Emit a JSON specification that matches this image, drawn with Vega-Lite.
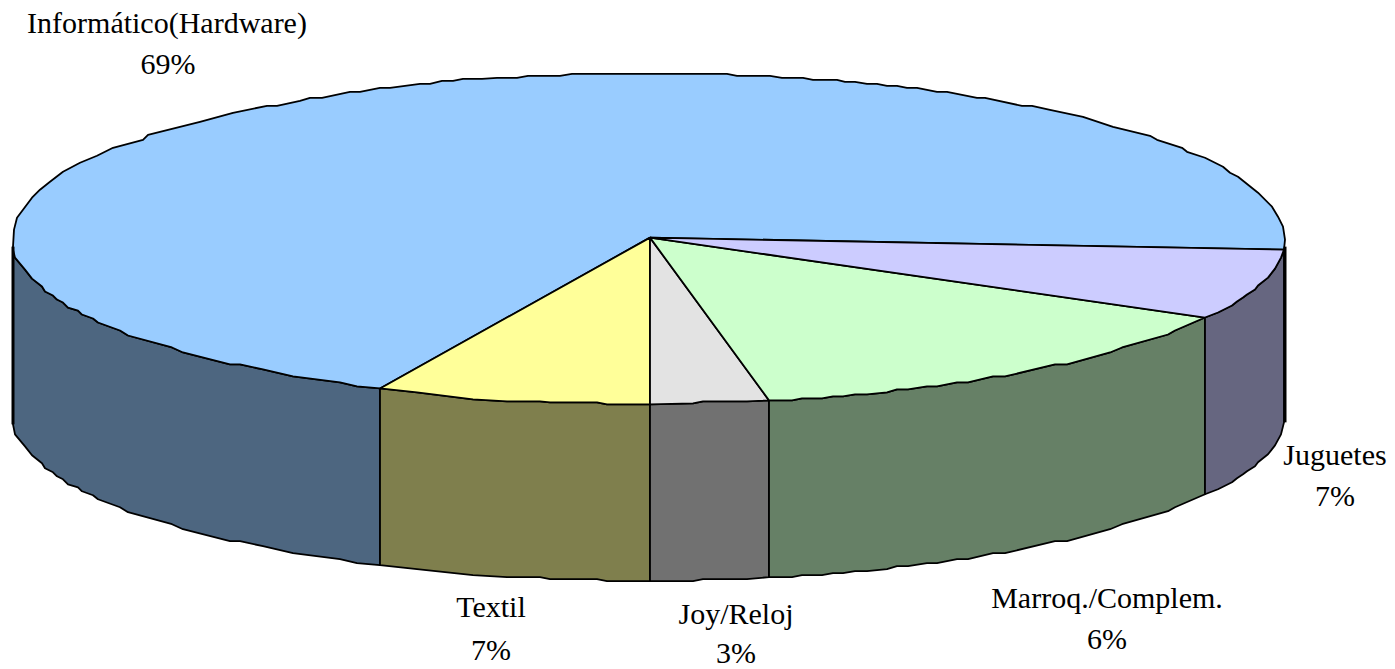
{"$schema":"https://vega.github.io/schema/vega-lite/v6.json","width":1395,"height":669,"autosize":{"type":"fit","contains":"padding"},"padding":0,"background":"white","config":{"view":{"stroke":null}},
"datasets":{"shapes":[
{"p":"s1","i":0,"x":-637,"y":-9},{"p":"s1","i":1,"x":-637,"y":-12},{"p":"s1","i":2,"x":-635,"y":-20},{"p":"s1","i":3,"x":-625,"y":-32},{"p":"s1","i":4,"x":-618,"y":-41},{"p":"s1","i":5,"x":-608,"y":-49},{"p":"s1","i":6,"x":-605,"y":-54},{"p":"s1","i":7,"x":-597,"y":-58},{"p":"s1","i":8,"x":-593,"y":-62},{"p":"s1","i":9,"x":-587,"y":-65},{"p":"s1","i":10,"x":-582,"y":-70},{"p":"s1","i":11,"x":-572,"y":-73},{"p":"s1","i":12,"x":-568,"y":-77},{"p":"s1","i":13,"x":-557,"y":-81},{"p":"s1","i":14,"x":-552,"y":-85},{"p":"s1","i":15,"x":-530,"y":-93},{"p":"s1","i":16,"x":-522,"y":-98},{"p":"s1","i":17,"x":-478,"y":-110},{"p":"s1","i":18,"x":-467,"y":-115},{"p":"s1","i":19,"x":-420,"y":-127},{"p":"s1","i":20,"x":-410,"y":-127},{"p":"s1","i":21,"x":-387,"y":-132},{"p":"s1","i":22,"x":-357,"y":-139},{"p":"s1","i":23,"x":-310,"y":-145},{"p":"s1","i":24,"x":-293,"y":-149},{"p":"s1","i":25,"x":-270,"y":-151},{"p":"s1","i":26,"x":-270,"y":-328},{"p":"s1","i":27,"x":-293,"y":-326},{"p":"s1","i":28,"x":-310,"y":-322},{"p":"s1","i":29,"x":-357,"y":-316},{"p":"s1","i":30,"x":-387,"y":-309},{"p":"s1","i":31,"x":-410,"y":-304},{"p":"s1","i":32,"x":-420,"y":-304},{"p":"s1","i":33,"x":-467,"y":-292},{"p":"s1","i":34,"x":-478,"y":-287},{"p":"s1","i":35,"x":-522,"y":-275},{"p":"s1","i":36,"x":-530,"y":-270},{"p":"s1","i":37,"x":-552,"y":-262},{"p":"s1","i":38,"x":-557,"y":-258},{"p":"s1","i":39,"x":-568,"y":-254},{"p":"s1","i":40,"x":-572,"y":-250},{"p":"s1","i":41,"x":-582,"y":-247},{"p":"s1","i":42,"x":-587,"y":-242},{"p":"s1","i":43,"x":-593,"y":-239},{"p":"s1","i":44,"x":-597,"y":-235},{"p":"s1","i":45,"x":-605,"y":-231},{"p":"s1","i":46,"x":-608,"y":-226},{"p":"s1","i":47,"x":-618,"y":-218},{"p":"s1","i":48,"x":-625,"y":-209},{"p":"s1","i":49,"x":-635,"y":-197},{"p":"s1","i":50,"x":-637,"y":-187},{"p":"s1","i":51,"x":-637,"y":-9},
{"p":"s2","i":0,"x":-270,"y":-151},{"p":"s2","i":1,"x":-233,"y":-155},{"p":"s2","i":2,"x":-177,"y":-162},{"p":"s2","i":3,"x":-143,"y":-164},{"p":"s2","i":4,"x":-110,"y":-164},{"p":"s2","i":5,"x":-100,"y":-165},{"p":"s2","i":6,"x":-53,"y":-165},{"p":"s2","i":7,"x":-43,"y":-167},{"p":"s2","i":8,"x":0,"y":-167},{"p":"s2","i":9,"x":0,"y":-344},{"p":"s2","i":10,"x":-43,"y":-344},{"p":"s2","i":11,"x":-53,"y":-342},{"p":"s2","i":12,"x":-100,"y":-342},{"p":"s2","i":13,"x":-110,"y":-340},{"p":"s2","i":14,"x":-143,"y":-340},{"p":"s2","i":15,"x":-177,"y":-338},{"p":"s2","i":16,"x":-233,"y":-332},{"p":"s2","i":17,"x":-270,"y":-328},{"p":"s2","i":18,"x":-270,"y":-151},
{"p":"s3","i":0,"x":0,"y":-167},{"p":"s3","i":1,"x":43,"y":-166},{"p":"s3","i":2,"x":53,"y":-164},{"p":"s3","i":3,"x":97,"y":-164},{"p":"s3","i":4,"x":119,"y":-163},{"p":"s3","i":5,"x":119,"y":-340},{"p":"s3","i":6,"x":97,"y":-342},{"p":"s3","i":7,"x":53,"y":-342},{"p":"s3","i":8,"x":43,"y":-344},{"p":"s3","i":9,"x":0,"y":-344},{"p":"s3","i":10,"x":0,"y":-167},
{"p":"s4","i":0,"x":119,"y":-163},{"p":"s4","i":1,"x":142,"y":-163},{"p":"s4","i":2,"x":152,"y":-161},{"p":"s4","i":3,"x":172,"y":-161},{"p":"s4","i":4,"x":183,"y":-159},{"p":"s4","i":5,"x":193,"y":-159},{"p":"s4","i":6,"x":205,"y":-157},{"p":"s4","i":7,"x":217,"y":-157},{"p":"s4","i":8,"x":237,"y":-155},{"p":"s4","i":9,"x":247,"y":-152},{"p":"s4","i":10,"x":258,"y":-152},{"p":"s4","i":11,"x":277,"y":-149},{"p":"s4","i":12,"x":287,"y":-149},{"p":"s4","i":13,"x":307,"y":-145},{"p":"s4","i":14,"x":318,"y":-145},{"p":"s4","i":15,"x":343,"y":-139},{"p":"s4","i":16,"x":355,"y":-139},{"p":"s4","i":17,"x":405,"y":-127},{"p":"s4","i":18,"x":417,"y":-127},{"p":"s4","i":19,"x":460,"y":-115},{"p":"s4","i":20,"x":472,"y":-110},{"p":"s4","i":21,"x":518,"y":-97},{"p":"s4","i":22,"x":525,"y":-93},{"p":"s4","i":23,"x":555,"y":-80},{"p":"s4","i":24,"x":555,"y":-257},{"p":"s4","i":25,"x":525,"y":-270},{"p":"s4","i":26,"x":518,"y":-274},{"p":"s4","i":27,"x":472,"y":-287},{"p":"s4","i":28,"x":460,"y":-292},{"p":"s4","i":29,"x":417,"y":-304},{"p":"s4","i":30,"x":405,"y":-304},{"p":"s4","i":31,"x":355,"y":-316},{"p":"s4","i":32,"x":343,"y":-316},{"p":"s4","i":33,"x":318,"y":-322},{"p":"s4","i":34,"x":307,"y":-322},{"p":"s4","i":35,"x":287,"y":-326},{"p":"s4","i":36,"x":277,"y":-326},{"p":"s4","i":37,"x":258,"y":-329},{"p":"s4","i":38,"x":247,"y":-329},{"p":"s4","i":39,"x":237,"y":-332},{"p":"s4","i":40,"x":217,"y":-334},{"p":"s4","i":41,"x":205,"y":-334},{"p":"s4","i":42,"x":193,"y":-336},{"p":"s4","i":43,"x":183,"y":-336},{"p":"s4","i":44,"x":172,"y":-338},{"p":"s4","i":45,"x":152,"y":-338},{"p":"s4","i":46,"x":142,"y":-340},{"p":"s4","i":47,"x":119,"y":-340},{"p":"s4","i":48,"x":119,"y":-163},
{"p":"s5","i":0,"x":555,"y":-80},{"p":"s5","i":1,"x":568,"y":-75},{"p":"s5","i":2,"x":572,"y":-73},{"p":"s5","i":3,"x":582,"y":-68},{"p":"s5","i":4,"x":587,"y":-64},{"p":"s5","i":5,"x":593,"y":-60},{"p":"s5","i":6,"x":597,"y":-57},{"p":"s5","i":7,"x":605,"y":-52},{"p":"s5","i":8,"x":608,"y":-48},{"p":"s5","i":9,"x":618,"y":-40},{"p":"s5","i":10,"x":625,"y":-31},{"p":"s5","i":11,"x":631,"y":-20},{"p":"s5","i":12,"x":634,"y":-12},{"p":"s5","i":13,"x":634,"y":-185},{"p":"s5","i":14,"x":631,"y":-197},{"p":"s5","i":15,"x":625,"y":-208},{"p":"s5","i":16,"x":618,"y":-217},{"p":"s5","i":17,"x":608,"y":-225},{"p":"s5","i":18,"x":605,"y":-229},{"p":"s5","i":19,"x":597,"y":-234},{"p":"s5","i":20,"x":593,"y":-237},{"p":"s5","i":21,"x":587,"y":-241},{"p":"s5","i":22,"x":582,"y":-245},{"p":"s5","i":23,"x":572,"y":-250},{"p":"s5","i":24,"x":568,"y":-252},{"p":"s5","i":25,"x":555,"y":-257},{"p":"s5","i":26,"x":555,"y":-80},
{"p":"t1","i":0,"x":0,"y":0},{"p":"t1","i":1,"x":634,"y":-12},{"p":"t1","i":2,"x":635,"y":-2},{"p":"t1","i":3,"x":633,"y":11},{"p":"t1","i":4,"x":628,"y":21},{"p":"t1","i":5,"x":622,"y":31},{"p":"t1","i":6,"x":608,"y":45},{"p":"t1","i":7,"x":588,"y":61},{"p":"t1","i":8,"x":580,"y":65},{"p":"t1","i":9,"x":573,"y":71},{"p":"t1","i":10,"x":555,"y":80},{"p":"t1","i":11,"x":537,"y":86},{"p":"t1","i":12,"x":532,"y":90},{"p":"t1","i":13,"x":507,"y":98},{"p":"t1","i":14,"x":500,"y":102},{"p":"t1","i":15,"x":463,"y":111},{"p":"t1","i":16,"x":433,"y":121},{"p":"t1","i":17,"x":400,"y":128},{"p":"t1","i":18,"x":382,"y":132},{"p":"t1","i":19,"x":372,"y":132},{"p":"t1","i":20,"x":335,"y":140},{"p":"t1","i":21,"x":327,"y":140},{"p":"t1","i":22,"x":297,"y":146},{"p":"t1","i":23,"x":287,"y":146},{"p":"t1","i":24,"x":267,"y":150},{"p":"t1","i":25,"x":257,"y":150},{"p":"t1","i":26,"x":247,"y":152},{"p":"t1","i":27,"x":237,"y":152},{"p":"t1","i":28,"x":227,"y":154},{"p":"t1","i":29,"x":217,"y":154},{"p":"t1","i":30,"x":205,"y":156},{"p":"t1","i":31,"x":195,"y":156},{"p":"t1","i":32,"x":187,"y":158},{"p":"t1","i":33,"x":163,"y":158},{"p":"t1","i":34,"x":153,"y":160},{"p":"t1","i":35,"x":132,"y":160},{"p":"t1","i":36,"x":120,"y":162},{"p":"t1","i":37,"x":87,"y":162},{"p":"t1","i":38,"x":77,"y":164},{"p":"t1","i":39,"x":-78,"y":164},{"p":"t1","i":40,"x":-90,"y":162},{"p":"t1","i":41,"x":-122,"y":162},{"p":"t1","i":42,"x":-133,"y":160},{"p":"t1","i":43,"x":-153,"y":160},{"p":"t1","i":44,"x":-168,"y":159},{"p":"t1","i":45,"x":-187,"y":159},{"p":"t1","i":46,"x":-197,"y":157},{"p":"t1","i":47,"x":-208,"y":157},{"p":"t1","i":48,"x":-220,"y":154},{"p":"t1","i":49,"x":-230,"y":154},{"p":"t1","i":50,"x":-260,"y":150},{"p":"t1","i":51,"x":-270,"y":150},{"p":"t1","i":52,"x":-290,"y":146},{"p":"t1","i":53,"x":-300,"y":146},{"p":"t1","i":54,"x":-328,"y":140},{"p":"t1","i":55,"x":-340,"y":140},{"p":"t1","i":56,"x":-350,"y":137},{"p":"t1","i":57,"x":-373,"y":132},{"p":"t1","i":58,"x":-383,"y":132},{"p":"t1","i":59,"x":-417,"y":125},{"p":"t1","i":60,"x":-450,"y":116},{"p":"t1","i":61,"x":-502,"y":103},{"p":"t1","i":62,"x":-507,"y":98},{"p":"t1","i":63,"x":-537,"y":90},{"p":"t1","i":64,"x":-553,"y":82},{"p":"t1","i":65,"x":-570,"y":75},{"p":"t1","i":66,"x":-587,"y":66},{"p":"t1","i":67,"x":-600,"y":56},{"p":"t1","i":68,"x":-610,"y":48},{"p":"t1","i":69,"x":-618,"y":40},{"p":"t1","i":70,"x":-627,"y":28},{"p":"t1","i":71,"x":-633,"y":20},{"p":"t1","i":72,"x":-636,"y":8},{"p":"t1","i":73,"x":-637,"y":-9},{"p":"t1","i":74,"x":-637,"y":-12},{"p":"t1","i":75,"x":-635,"y":-20},{"p":"t1","i":76,"x":-625,"y":-32},{"p":"t1","i":77,"x":-618,"y":-41},{"p":"t1","i":78,"x":-608,"y":-49},{"p":"t1","i":79,"x":-605,"y":-54},{"p":"t1","i":80,"x":-597,"y":-58},{"p":"t1","i":81,"x":-593,"y":-62},{"p":"t1","i":82,"x":-587,"y":-65},{"p":"t1","i":83,"x":-582,"y":-70},{"p":"t1","i":84,"x":-572,"y":-73},{"p":"t1","i":85,"x":-568,"y":-77},{"p":"t1","i":86,"x":-557,"y":-81},{"p":"t1","i":87,"x":-552,"y":-85},{"p":"t1","i":88,"x":-530,"y":-93},{"p":"t1","i":89,"x":-522,"y":-98},{"p":"t1","i":90,"x":-478,"y":-110},{"p":"t1","i":91,"x":-467,"y":-115},{"p":"t1","i":92,"x":-420,"y":-127},{"p":"t1","i":93,"x":-410,"y":-127},{"p":"t1","i":94,"x":-387,"y":-132},{"p":"t1","i":95,"x":-357,"y":-139},{"p":"t1","i":96,"x":-310,"y":-145},{"p":"t1","i":97,"x":-293,"y":-149},{"p":"t1","i":98,"x":-270,"y":-151},{"p":"t1","i":99,"x":0,"y":0},
{"p":"t2","i":0,"x":0,"y":0},{"p":"t2","i":1,"x":-270,"y":-151},{"p":"t2","i":2,"x":-233,"y":-155},{"p":"t2","i":3,"x":-177,"y":-162},{"p":"t2","i":4,"x":-143,"y":-164},{"p":"t2","i":5,"x":-110,"y":-164},{"p":"t2","i":6,"x":-100,"y":-165},{"p":"t2","i":7,"x":-53,"y":-165},{"p":"t2","i":8,"x":-43,"y":-167},{"p":"t2","i":9,"x":0,"y":-167},{"p":"t2","i":10,"x":0,"y":0},
{"p":"t3","i":0,"x":0,"y":0},{"p":"t3","i":1,"x":0,"y":-167},{"p":"t3","i":2,"x":43,"y":-166},{"p":"t3","i":3,"x":53,"y":-164},{"p":"t3","i":4,"x":97,"y":-164},{"p":"t3","i":5,"x":119,"y":-163},{"p":"t3","i":6,"x":0,"y":0},
{"p":"t4","i":0,"x":0,"y":0},{"p":"t4","i":1,"x":119,"y":-163},{"p":"t4","i":2,"x":142,"y":-163},{"p":"t4","i":3,"x":152,"y":-161},{"p":"t4","i":4,"x":172,"y":-161},{"p":"t4","i":5,"x":183,"y":-159},{"p":"t4","i":6,"x":193,"y":-159},{"p":"t4","i":7,"x":205,"y":-157},{"p":"t4","i":8,"x":217,"y":-157},{"p":"t4","i":9,"x":237,"y":-155},{"p":"t4","i":10,"x":247,"y":-152},{"p":"t4","i":11,"x":258,"y":-152},{"p":"t4","i":12,"x":277,"y":-149},{"p":"t4","i":13,"x":287,"y":-149},{"p":"t4","i":14,"x":307,"y":-145},{"p":"t4","i":15,"x":318,"y":-145},{"p":"t4","i":16,"x":343,"y":-139},{"p":"t4","i":17,"x":355,"y":-139},{"p":"t4","i":18,"x":405,"y":-127},{"p":"t4","i":19,"x":417,"y":-127},{"p":"t4","i":20,"x":460,"y":-115},{"p":"t4","i":21,"x":472,"y":-110},{"p":"t4","i":22,"x":518,"y":-97},{"p":"t4","i":23,"x":525,"y":-93},{"p":"t4","i":24,"x":555,"y":-80},{"p":"t4","i":25,"x":0,"y":0},
{"p":"t5","i":0,"x":0,"y":0},{"p":"t5","i":1,"x":555,"y":-80},{"p":"t5","i":2,"x":568,"y":-75},{"p":"t5","i":3,"x":572,"y":-73},{"p":"t5","i":4,"x":582,"y":-68},{"p":"t5","i":5,"x":587,"y":-64},{"p":"t5","i":6,"x":593,"y":-60},{"p":"t5","i":7,"x":597,"y":-57},{"p":"t5","i":8,"x":605,"y":-52},{"p":"t5","i":9,"x":608,"y":-48},{"p":"t5","i":10,"x":618,"y":-40},{"p":"t5","i":11,"x":625,"y":-31},{"p":"t5","i":12,"x":631,"y":-20},{"p":"t5","i":13,"x":634,"y":-12},{"p":"t5","i":14,"x":0,"y":0}
],
"edges":[{"e":"r","i":0,"x":635,"y":-9},{"e":"r","i":1,"x":635,"y":-185},{"e":"l","i":0,"x":-637,"y":-9},{"e":"l","i":1,"x":-637,"y":-187}],
"labels":[{"t":"Informático(Hardware)","x":-483,"y":214},{"t":"69%","x":-482,"y":173},{"t":"Juguetes","x":685,"y":-219},{"t":"7%","x":685,"y":-260},{"t":"Marroq./Complem.","x":457,"y":-362},{"t":"6%","x":457,"y":-403},{"t":"Textil","x":-159,"y":-371},{"t":"7%","x":-159,"y":-414},{"t":"Joy/Reloj","x":86,"y":-378},{"t":"3%","x":86,"y":-417}]},
"layer":[
{"data":{"name":"shapes"},"mark":{"type":"line","stroke":"black","strokeWidth":1.8,"strokeJoin":"round","clip":false},
"encoding":{"x":{"field":"x","type":"quantitative","scale":{"domain":[-650,745],"nice":false,"zero":false},"axis":null},"y":{"field":"y","type":"quantitative","scale":{"domain":[-431,238],"nice":false,"zero":false},"axis":null},"order":{"field":"i","type":"quantitative"},"detail":{"field":"p"},"fill":{"field":"p","type":"nominal","legend":null,"scale":{"domain":["s1","s2","s3","s4","s5","t1","t2","t3","t4","t5"],"range":["#4D6680","#7F7F4D","#717171","#668066","#666680","#99CCFF","#FFFF99","#E3E3E3","#CCFFCC","#CCCCFF"]}}}},
{"data":{"name":"edges"},"mark":{"type":"line","color":"black","strokeWidth":3},
"encoding":{"x":{"field":"x","type":"quantitative"},"y":{"field":"y","type":"quantitative"},"order":{"field":"i","type":"quantitative"},"detail":{"field":"e"}}},
{"data":{"name":"labels"},"mark":{"type":"text","font":"Liberation Serif","fontSize":30,"color":"#000","align":"center","baseline":"middle"},
"encoding":{"x":{"field":"x","type":"quantitative"},"y":{"field":"y","type":"quantitative"},"text":{"field":"t"}}}
]}
